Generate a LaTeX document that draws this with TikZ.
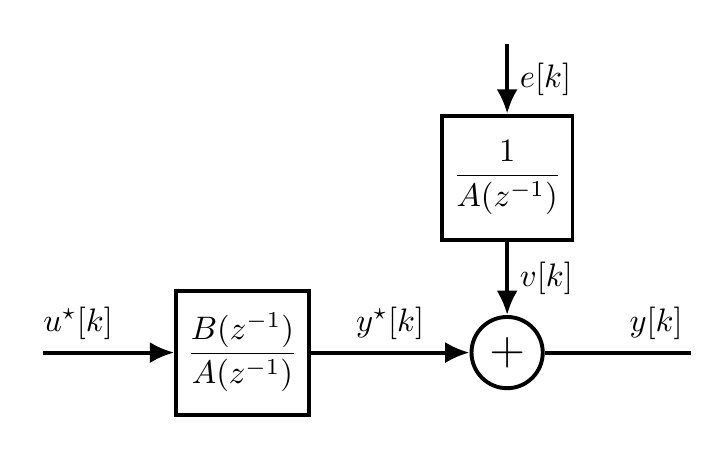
\documentclass[tikz,border=0pt]{standalone}
\usepackage{amsmath}
\usetikzlibrary{arrows.meta}

\begin{document}
\begin{tikzpicture}[>={Latex[length=7.5pt,width=6.5pt]},
		block/.style={draw, rectangle, line width=1.2pt, minimum width=1.31cm, minimum height=1.34cm},
		sumnode/.style={draw, circle, line width=1.2pt, minimum size=0.77cm, inner sep=0pt}]
				\useasboundingbox (0,0) rectangle (7.78,4.91);

				% Input
				\coordinate (input) at (0.46,1.10);

				% Plant
				\node[block] (plant) at (2.62,1.10) {$\dfrac{B(z^{-1})}{A(z^{-1})}$};
				\draw[->, line width=1.2pt] (input) -- node[above, pos=0.27] {$u^{\star}[k]$} (plant);

				% Noise
				\coordinate (noisein) at (5.48,4.43);
				\node[block] (noise) at (5.48,2.99) {$\dfrac{1}{A(z^{-1})}$};
				\draw[->, line width=1.2pt] (noisein) -- node[right] {$e[k]$} (noise);

				% Sum
				\node[sumnode] (sum) at (5.48,1.10) {\Large$+$};
				\draw[->, line width=1.2pt] (plant) -- node[above] {$y^{\star}[k]$} (sum);
				\draw[->, line width=1.2pt] (noise) -- node[right] {$v[k]$} (sum);

				% Output
				\coordinate (output) at (7.47,1.10);
				\draw[line width=1.2pt] (sum) -- node[above, pos=0.76] {$y[k]$} (output);
			\end{tikzpicture}
\end{document}
